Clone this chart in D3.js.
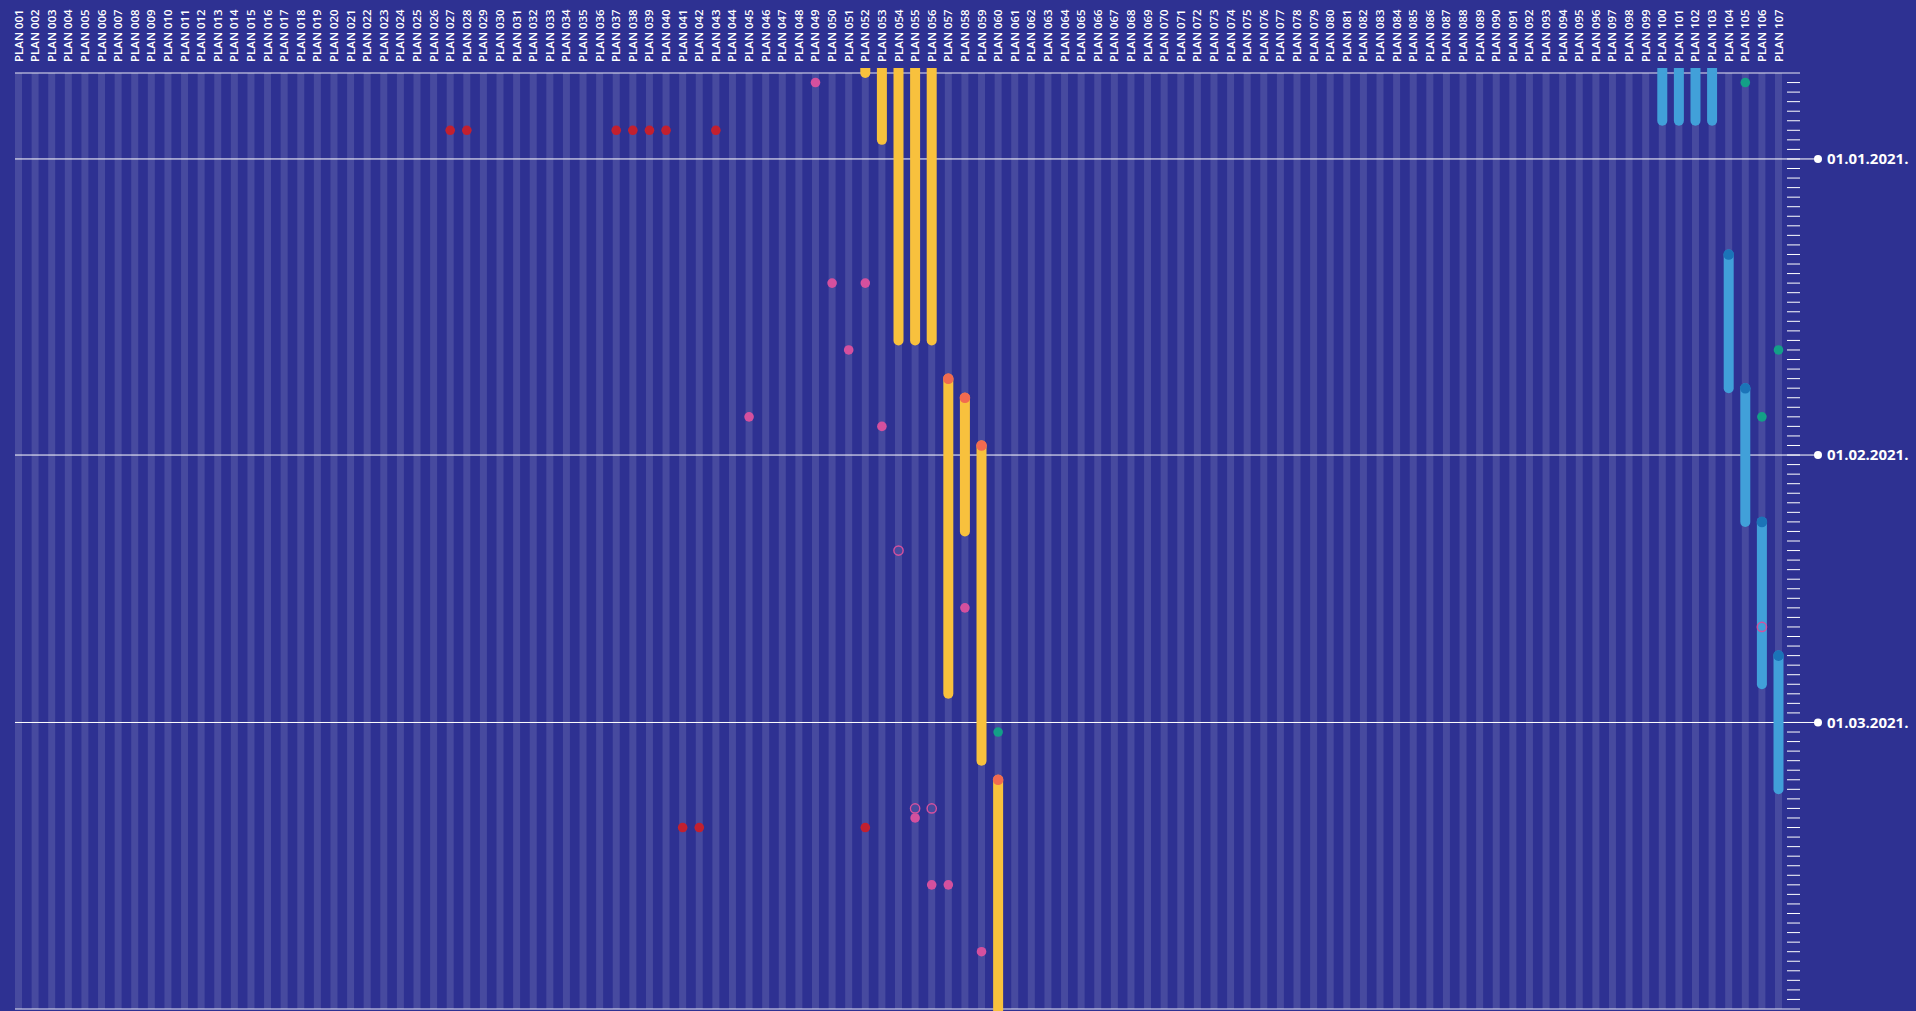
<!DOCTYPE html>
<html>
<head>
<meta charset="utf-8">
<script src="https://cdn.jsdelivr.net/npm/d3@7"></script>
<style>
  html, body { margin: 0; padding: 0; background: #2e3192; overflow: hidden; }
  svg { display: block; }
</style>
</head>
<body>
<svg id="chart" width="1916" height="1011"></svg>
<script>
// ---------- DATA ----------
const plans = d3.range(1, 108).map(i => "PLAN " + String(i).padStart(3, "0"));
const monthTicks = ["2021-01-01", "2021-02-01", "2021-03-01"];
const monthLabels = ["01.01.2021.", "01.02.2021.", "01.03.2021."];

// yellow ranges (orange marker at start)
const yellowPlans = ["PLAN 052","PLAN 053","PLAN 054","PLAN 055","PLAN 056","PLAN 057","PLAN 058","PLAN 059","PLAN 060"];
const yellowStart = ["2020-12-19","2020-12-19","2020-12-19","2020-12-19","2020-12-19","2021-01-24","2021-01-26","2021-01-31","2021-03-07"];
const yellowEnd   = ["2020-12-23","2020-12-30","2021-01-20","2021-01-20","2021-01-20","2021-02-26","2021-02-09","2021-03-05","2021-04-06"];

// blue ranges (dark blue marker at start)
const bluePlans = ["PLAN 100","PLAN 101","PLAN 102","PLAN 103","PLAN 104","PLAN 105","PLAN 106","PLAN 107"];
const blueStart = ["2020-12-19","2020-12-19","2020-12-19","2020-12-19","2021-01-11","2021-01-25","2021-02-08","2021-02-22"];
const blueEnd   = ["2020-12-28","2020-12-28","2020-12-28","2020-12-28","2021-01-25","2021-02-08","2021-02-25","2021-03-08"];

// single events
const redPlans  = ["PLAN 027","PLAN 028","PLAN 037","PLAN 038","PLAN 039","PLAN 040","PLAN 043","PLAN 041","PLAN 042","PLAN 052"];
const redDates  = ["2020-12-29","2020-12-29","2020-12-29","2020-12-29","2020-12-29","2020-12-29","2020-12-29","2021-03-12","2021-03-12","2021-03-12"];

const greenPlans = ["PLAN 105","PLAN 107","PLAN 106","PLAN 060"];
const greenDates = ["2020-12-24","2021-01-21","2021-01-28","2021-03-02"];

const pinkPlans = ["PLAN 049","PLAN 050","PLAN 052","PLAN 051","PLAN 045","PLAN 053","PLAN 058","PLAN 055","PLAN 056","PLAN 057","PLAN 059"];
const pinkDates = ["2020-12-24","2021-01-14","2021-01-14","2021-01-21","2021-01-28","2021-01-29","2021-02-17","2021-03-11","2021-03-18","2021-03-18","2021-03-25"];

const pinkOpenPlans = ["PLAN 054","PLAN 055","PLAN 056","PLAN 106"];
const pinkOpenDates = ["2021-02-11","2021-03-10","2021-03-10","2021-02-19"];

const domainDates = ["2020-12-23", "2021-03-31"];

// ---------- STYLE ----------
const C = {
  bg: "#2e3192", stripe: "rgba(255,255,255,0.12)",
  yellow: "#f8c13d", orange: "#f26a4f",
  blue: "#41a0d9", blueDark: "#1b74b8",
  green: "#13a087", red: "#c3202f", pink: "#d4509e"
};

const parse = d3.utcParse("%Y-%m-%d");
const svg = d3.select("#chart");

const x = d3.scalePoint().domain(plans).range([18.5, 1778.5]);
const y = d3.scaleUtc().domain(domainDates.map(parse)).range([73, 1009]);

const left = 15, right = 1800;

// stripes
svg.append("g").selectAll("rect").data(plans).join("rect")
  .attr("x", d => x(d) - 3.5).attr("y", 73)
  .attr("width", 7).attr("height", 1009 - 73)
  .attr("fill", C.stripe);

// column labels
svg.append("g").selectAll("text").data(plans).join("text")
  .attr("transform", d => `translate(${x(d) + 4},62) rotate(-90)`)
  .attr("fill", "#fff")
  .attr("font-family", "'Open Sans', sans-serif")
  .attr("font-weight", 600)
  .attr("font-size", 11.5)
  .text(d => d);

// daily ticks on right
const days = d3.utcDay.range(parse("2020-12-24"), parse("2021-03-31"));
svg.append("g").selectAll("line").data(days).join("line")
  .attr("x1", 1787).attr("x2", right)
  .attr("y1", d => y(d)).attr("y2", d => y(d))
  .attr("stroke", "#fff").attr("stroke-width", 1);

// top & bottom frame lines
svg.append("g").selectAll("line").data(domainDates).join("line")
  .attr("x1", left).attr("x2", right)
  .attr("y1", d => y(parse(d))).attr("y2", d => y(parse(d)))
  .attr("stroke", "#e8e8f4").attr("stroke-width", 1.2);

// month lines with labels
const mg = svg.append("g").selectAll("g").data(monthTicks).join("g")
  .attr("transform", d => `translate(0,${y(parse(d))})`);
mg.append("line").attr("x1", left).attr("x2", 1818).attr("stroke", "#fff").attr("stroke-width", 1);
mg.append("circle").attr("cx", 1818).attr("r", 4).attr("fill", "#fff");
mg.append("text").attr("x", 1827).attr("dy", "0.35em")
  .attr("fill", "#fff")
  .attr("font-family", "'Open Sans', sans-serif")
  .attr("font-weight", 700).attr("font-size", 15)
  .text((d, i) => monthLabels[i]);

// clip for marks
svg.append("clipPath").attr("id", "clip")
  .append("rect").attr("x", 0).attr("y", 68).attr("width", 1916).attr("height", 1011 - 68);
const marks = svg.append("g").attr("clip-path", "url(#clip)");

function ranges(plansArr, starts, ends, barColor, dotColor) {
  const data = plansArr.map((p, i) => ({ p, s: parse(starts[i]), e: parse(ends[i]) }));
  marks.append("g").selectAll("line").data(data).join("line")
    .attr("x1", d => x(d.p)).attr("x2", d => x(d.p))
    .attr("y1", d => y(d.s)).attr("y2", d => y(d.e))
    .attr("stroke", barColor).attr("stroke-width", 10).attr("stroke-linecap", "round");
  marks.append("g").selectAll("circle").data(data).join("circle")
    .attr("cx", d => x(d.p)).attr("cy", d => y(d.s)).attr("r", 5.3)
    .attr("fill", dotColor);
}
ranges(yellowPlans, yellowStart, yellowEnd, C.yellow, C.orange);
ranges(bluePlans, blueStart, blueEnd, C.blue, C.blueDark);

function dots(plansArr, dates, color, open) {
  marks.append("g").selectAll("circle").data(plansArr.map((p, i) => ({ p, d: parse(dates[i]) }))).join("circle")
    .attr("cx", d => x(d.p)).attr("cy", d => y(d.d))
    .attr("r", open ? 4.6 : 4.8)
    .attr("fill", open ? "none" : color)
    .attr("stroke", open ? color : "none")
    .attr("stroke-width", open ? 1.5 : 0);
}
dots(redPlans, redDates, C.red, false);
dots(greenPlans, greenDates, C.green, false);
dots(pinkPlans, pinkDates, C.pink, false);
dots(pinkOpenPlans, pinkOpenDates, C.pink, true);
</script>
</body>
</html>
